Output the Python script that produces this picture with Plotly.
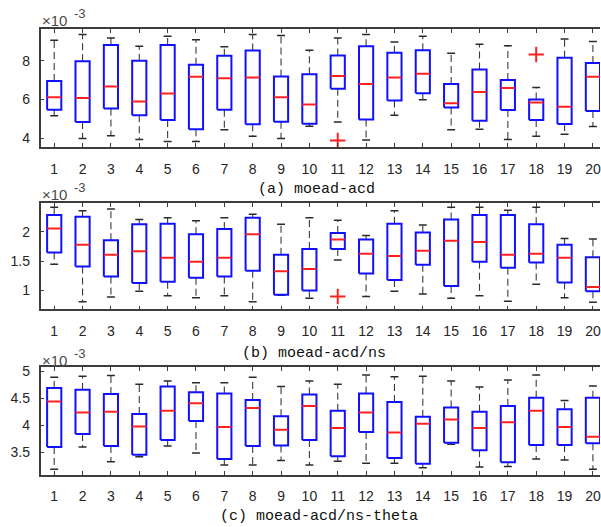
import plotly.graph_objects as go

W, H = 601, 527
cats = list(range(1, 21))

# panel (a) moead-acd, units of 1e-3
A_upper = [9.06, 9.36, 9.18, 8.75, 9.26, 9.09, 8.72, 9.36, 9.31, 8.54, 9.18, 9.35, 8.97, 9.26, 8.39, 8.85, 8.77, 6.62, 9.13, 8.99]
A_q3 = [6.95, 7.98, 8.82, 8.00, 8.82, 7.79, 8.26, 8.53, 7.19, 7.30, 8.27, 8.75, 8.41, 8.54, 6.80, 7.55, 7.01, 6.00, 8.15, 7.88]
A_med = [6.12, 6.08, 6.67, 5.90, 6.31, 7.18, 7.09, 7.13, 6.12, 5.74, 7.21, 6.80, 7.13, 7.33, 5.81, 6.39, 6.59, 5.85, 5.62, 7.18]
A_q1 = [5.47, 4.84, 5.54, 5.19, 4.94, 4.46, 5.47, 4.72, 4.85, 4.75, 6.56, 4.97, 5.95, 6.32, 5.59, 4.90, 5.45, 4.94, 4.73, 5.40]
A_lower = [5.16, 3.98, 4.12, 3.93, 3.83, 3.83, 4.44, 4.10, 3.98, 4.62, 4.84, 3.91, 5.19, 5.98, 4.43, 4.46, 3.93, 4.10, 4.21, 4.60]
A_out_x = [11, 18]
A_out_y = [3.88, 8.32]

# panel (b) moead-acd/ns
B_upper = [2.42, 2.36, 2.39, 2.21, 2.24, 2.19, 2.24, 2.30, 2.13, 2.24, 2.20, 1.94, 2.36, 2.12, 2.42, 2.42, 2.37, 2.42, 1.89, 1.88]
B_q3 = [2.29, 2.26, 1.86, 2.13, 2.14, 1.96, 2.05, 2.24, 1.61, 1.71, 1.98, 1.87, 2.14, 1.99, 2.21, 2.29, 2.29, 2.13, 1.78, 1.57]
B_med = [2.06, 1.78, 1.61, 1.67, 1.56, 1.49, 1.56, 1.96, 1.33, 1.37, 1.87, 1.63, 1.59, 1.68, 1.85, 1.83, 1.61, 1.63, 1.56, 1.06]
B_q1 = [1.65, 1.41, 1.24, 1.13, 1.15, 1.22, 1.24, 1.34, 0.93, 1.00, 1.71, 1.29, 1.18, 1.44, 1.08, 1.49, 1.39, 1.48, 1.14, 0.99]
B_lower = [1.45, 0.81, 0.89, 0.99, 0.91, 0.88, 0.91, 0.81, 0.92, 0.87, 1.52, 0.90, 0.99, 0.94, 0.87, 0.91, 0.82, 1.11, 0.88, 0.80]
B_out_x = [11]
B_out_y = [0.90]

# panel (c) moead-acd/ns-theta
C_upper = [4.89, 4.91, 4.92, 4.76, 4.82, 4.79, 4.79, 4.89, 4.72, 4.82, 4.76, 4.93, 4.90, 4.91, 4.82, 4.71, 4.84, 4.93, 4.46, 4.73]
C_q3 = [4.69, 4.66, 4.58, 4.21, 4.72, 4.61, 4.59, 4.47, 4.17, 4.57, 4.27, 4.59, 4.43, 4.16, 4.33, 4.25, 4.36, 4.51, 4.30, 4.51]
C_med = [4.44, 4.24, 4.25, 3.98, 4.27, 4.41, 3.97, 4.32, 3.92, 4.36, 3.95, 4.24, 3.87, 4.03, 4.11, 3.95, 4.06, 4.27, 3.97, 3.79]
C_q1 = [3.60, 3.84, 3.62, 3.46, 3.73, 4.08, 3.38, 3.62, 3.63, 3.73, 3.43, 3.88, 3.40, 3.29, 3.68, 3.54, 3.32, 3.64, 3.64, 3.67]
C_lower = [3.19, 3.60, 3.33, 3.42, 3.62, 3.49, 3.27, 3.27, 3.35, 3.27, 3.34, 3.30, 3.30, 3.22, 3.65, 3.23, 3.24, 3.38, 3.36, 3.19]
C_out_x = []
C_out_y = []

titles = ["(a) moead-acd", "(b) moead-acd/ns", "(c) moead-acd/ns-theta"]
y_ticks = [[4, 6, 8], [1, 1.5, 2], [3.5, 4, 4.5, 5]]
y_ranges = [[3.55, 9.65], [0.68, 2.49], [3.09, 5.08]]

panels = [
    (A_upper, A_q3, A_med, A_q1, A_lower, A_out_x, A_out_y),
    (B_upper, B_q3, B_med, B_q1, B_lower, B_out_x, B_out_y),
    (C_upper, C_q3, C_med, C_q1, C_lower, C_out_x, C_out_y),
]

# pixel geometry of the axes (top, bottom)
px_rows = [(25, 144), (200.7, 307.7), (365.7, 474.3)]
title_y = [186.7, 351.7, 516]
title_x = [317, 315, 319.5]
exp_y = [17, 192, 359]
x_left_px = 40.7

BW = 0.25   # half box width
CW = 0.14   # half cap width

fig = go.Figure()
for k, (up, q3, med, q1, lo, ox, oy) in enumerate(panels):
    xa = "x" if k == 0 else f"x{k+1}"
    ya = "y" if k == 0 else f"y{k+1}"
    bx, by, mx, my, wx, wy, cx, cy = [], [], [], [], [], [], [], []
    for i, c in enumerate(cats):
        bx += [c - BW, c + BW, c + BW, c - BW, c - BW, None]
        by += [q1[i], q1[i], q3[i], q3[i], q1[i], None]
        mx += [c - BW, c + BW, None]
        my += [med[i], med[i], None]
        wx += [c, c, None, c, c, None]
        wy += [q3[i], up[i], None, q1[i], lo[i], None]
        cx += [c - CW, c + CW, None, c - CW, c + CW, None]
        cy += [up[i], up[i], None, lo[i], lo[i], None]
    fig.add_trace(go.Scatter(x=wx, y=wy, mode="lines", xaxis=xa, yaxis=ya,
                             line=dict(color="#3a3a3a", width=1.1, dash="7px,4px"),
                             hoverinfo="skip", showlegend=False))
    fig.add_trace(go.Scatter(x=cx, y=cy, mode="lines", xaxis=xa, yaxis=ya,
                             line=dict(color="#2a2a2a", width=1.5),
                             hoverinfo="skip", showlegend=False))
    fig.add_trace(go.Scatter(x=bx, y=by, mode="lines", xaxis=xa, yaxis=ya,
                             line=dict(color="#1010ff", width=2),
                             hoverinfo="skip", showlegend=False))
    fig.add_trace(go.Scatter(x=mx, y=my, mode="lines", xaxis=xa, yaxis=ya,
                             line=dict(color="#ff2020", width=2),
                             hoverinfo="skip", showlegend=False))
    if ox:
        fig.add_trace(go.Scatter(x=ox, y=oy, mode="markers", xaxis=xa, yaxis=ya,
                                 marker=dict(symbol="cross-thin", size=11,
                                             line=dict(color="#ff2020", width=2)),
                                 hoverinfo="skip", showlegend=False))

    top, bot = px_rows[k]
    dom_y = [1 - bot / H, 1 - top / H]
    axis_common = dict(showline=True, linecolor="#3c3c3c", linewidth=1.6,
                       ticks="inside", ticklen=4, tickcolor="#3c3c3c", tickwidth=1,
                       showgrid=False, zeroline=False,
                       tickfont=dict(family="Liberation Sans, Arial", size=14, color="#262626"))
    xkey = "xaxis" if k == 0 else f"xaxis{k+1}"
    ykey = "yaxis" if k == 0 else f"yaxis{k+1}"
    fig.update_layout(**{
        xkey: dict(domain=[x_left_px / W, 1.0], range=[0.521, 20.25], anchor=ya,
                   tickvals=cats, ticktext=[str(c) for c in cats], mirror="allticks",
                   ticklabelstandoff=8, ticklabeloverflow="allow", **axis_common),
        ykey: dict(domain=dom_y, range=y_ranges[k], anchor=xa, tickvals=y_ticks[k],
                   ticktext=[f"{v:g}" for v in y_ticks[k]], mirror=False,
                   ticklabelstandoff=6, **axis_common),
    })
    fig.add_annotation(text=titles[k], xref="paper", yref="paper",
                       x=title_x[k] / W, y=1 - title_y[k] / H, xanchor="center", yanchor="middle",
                       showarrow=False,
                       font=dict(family="Liberation Mono, DejaVu Sans Mono", size=15, color="#111111"))
    fig.add_annotation(text="×10", xref="paper", yref="paper",
                       x=40 / W, y=1 - exp_y[k] / H, xanchor="left", yanchor="middle",
                       showarrow=False,
                       font=dict(family="Liberation Sans, Arial", size=15, color="#4a4a4a"))
    fig.add_annotation(text="-3", xref="paper", yref="paper",
                       x=72 / W, y=1 - (exp_y[k] - 7) / H, xanchor="left", yanchor="middle",
                       showarrow=False,
                       font=dict(family="Liberation Sans, Arial", size=13, color="#4a4a4a"))

fig.update_layout(width=W, height=H, margin=dict(l=0, r=0, t=0, b=0),
                  paper_bgcolor="white", plot_bgcolor="white", showlegend=False)
fig.write_html("out.html")
